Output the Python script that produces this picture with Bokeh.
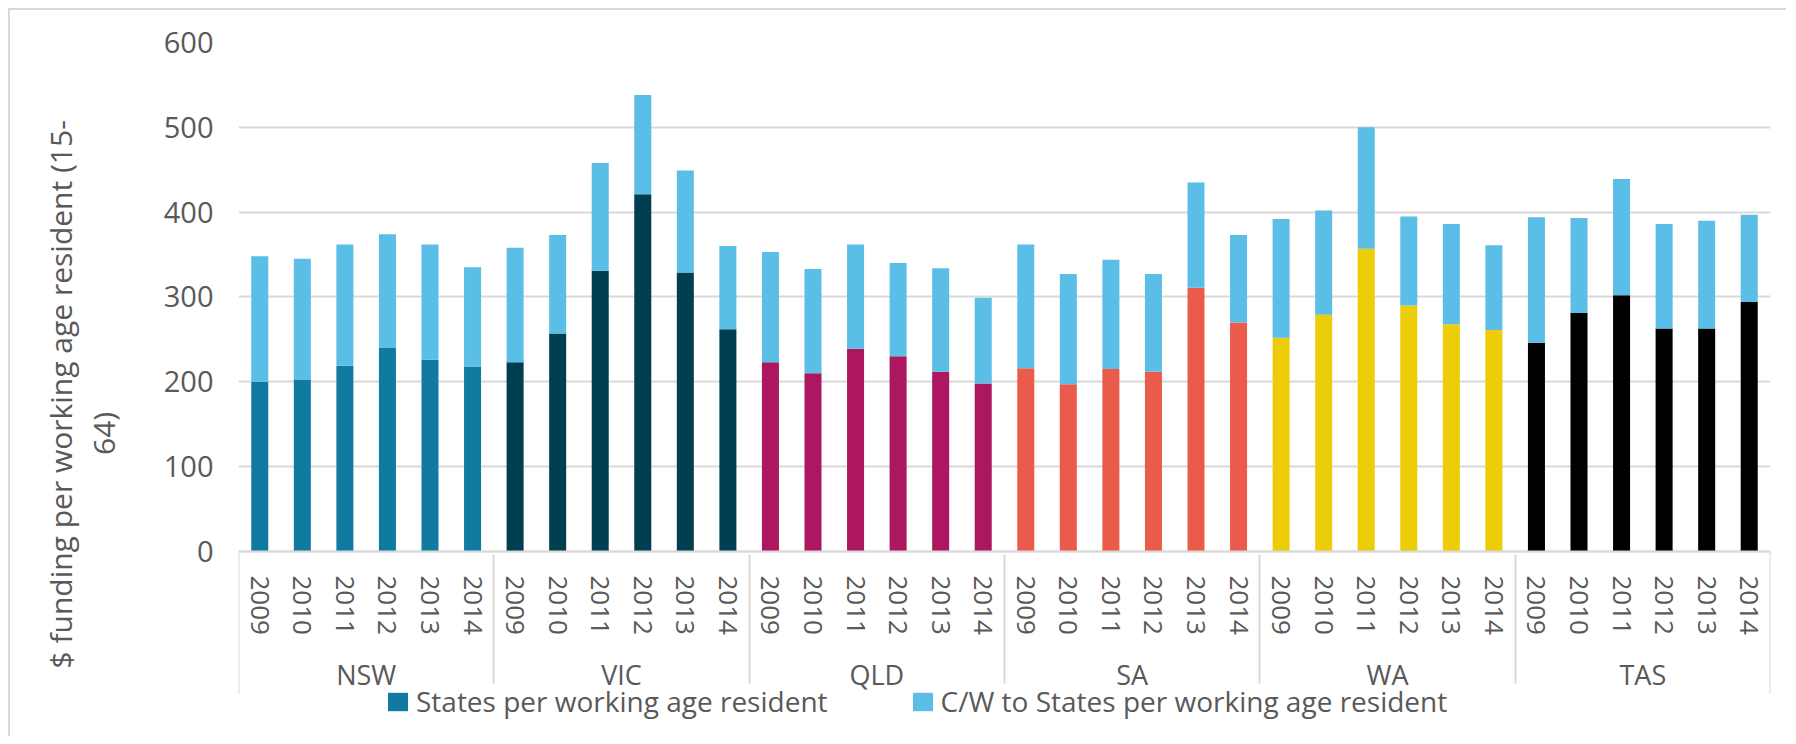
from bokeh.plotting import figure
from bokeh.models import FactorRange, Legend, LegendItem, ColumnDataSource
from bokeh.embed import file_html
from bokeh.resources import INLINE

# ---------------- data ----------------
states = ["NSW", "VIC", "QLD", "SA", "WA", "TAS"]
years = ["2009", "2010", "2011", "2012", "2013", "2014"]

# States per working age resident
nsw_state = [200, 202, 219, 240, 226, 218]
vic_state = [223, 257, 331, 421, 329, 262]
qld_state = [223, 210, 239, 230, 212, 198]
sa_state = [216, 197, 215, 212, 311, 270]
wa_state = [252, 279, 357, 290, 268, 261]
tas_state = [246, 281, 302, 263, 263, 294]

# C/W to States per working age resident
nsw_cw = [148, 143, 143, 134, 136, 117]
vic_cw = [135, 116, 127, 117, 120, 98]
qld_cw = [130, 123, 123, 110, 122, 101]
sa_cw = [146, 130, 129, 115, 124, 103]
wa_cw = [140, 123, 143, 105, 118, 100]
tas_cw = [148, 112, 137, 123, 127, 103]

state_colors = ["#107AA0", "#003F52", "#AC1760", "#EA5B4C", "#EDCD07", "#000000"]
cw_color = "#5BBEE6"

series_names = ["States per working age resident", "C/W to States per working age resident"]
y_ticks = [0, 100, 200, 300, 400, 500, 600]
y_title = "$  funding per working age resident (15-\n64)" + " " * 11

# ---------------- build ----------------
state_lists = [nsw_state, vic_state, qld_state, sa_state, wa_state, tas_state]
cw_lists = [nsw_cw, vic_cw, qld_cw, sa_cw, wa_cw, tas_cw]

factors = [(s, y) for s in states for y in years]
st_vals = [v for lst in state_lists for v in lst]
cw_vals = [v for lst in cw_lists for v in lst]
tops = [a + b for a, b in zip(st_vals, cw_vals)]
cols = [state_colors[i] for i in range(len(states)) for _ in years]

src = ColumnDataSource(dict(x=factors, st=st_vals, top=tops, color=cols))

FONT = "Open Sans"
TXT = "#595959"
GRID = "#D9D9D9"

H = 728
TOP = 32
PX_PER_UNIT = 0.8483
y_min = 600 - (H - TOP) / PX_PER_UNIT   # frame extends below 0 to hold the category labels and legend

p = figure(
    x_range=FactorRange(*factors, factor_padding=0, group_padding=0, subgroup_padding=0, range_padding=0),
    y_range=(y_min, 600),
    width=1778, height=H,
    output_backend="svg", toolbar_location=None,
    min_border_left=228, min_border_right=18, min_border_top=TOP, min_border_bottom=0,
)
p.styles = {"margin-left": "8px", "margin-top": "8px",
            "border-left": "2px solid #D9D9D9", "border-top": "2px solid #D9D9D9"}

r_state = p.vbar(x="x", bottom=0, top="st", width=0.4, fill_color="color", line_color=None, source=src)
r_cw = p.vbar(x="x", bottom="st", top="top", width=0.4, fill_color=cw_color, line_color=None, source=src)

p.outline_line_color = None
p.xgrid.grid_line_color = None
p.ygrid.grid_line_color = GRID
p.ygrid.grid_line_width = 2

ya = p.yaxis[0]
ya.ticker = y_ticks
ya.axis_line_color = None
ya.major_tick_line_color = None
ya.minor_tick_line_color = None
ya.major_label_standoff = 19
ya.major_label_text_font = FONT
ya.major_label_text_font_size = "29px"
ya.major_label_text_color = TXT
ya.axis_label = y_title
ya.axis_label_text_font = FONT
ya.axis_label_text_font_size = "30px"
ya.axis_label_text_font_style = "normal"
ya.axis_label_text_color = TXT
ya.axis_label_standoff = 37
ya.axis_label_text_line_height = 1.05

xa = p.xaxis[0]
xa.fixed_location = 0
xa.axis_line_color = GRID
xa.axis_line_width = 2
xa.major_tick_line_color = None
xa.minor_tick_line_color = None
xa.major_label_orientation = "vertical"
xa.major_label_standoff = 18
xa.major_label_text_font = FONT
xa.major_label_text_font_size = "26px"
xa.major_label_text_color = TXT
xa.group_text_font = FONT
xa.group_text_font_size = "27px"
xa.group_text_font_style = "normal"
xa.group_text_color = TXT
xa.separator_line_color = GRID
xa.separator_line_width = 2

# outer separators at both ends of the category axis
sep_bottom = -168
p.segment(x0=[0, len(factors)], x1=[0, len(factors)], y0=[0, 0], y1=[sep_bottom, sep_bottom],
          line_color=GRID, line_width=2)

# legend (inside the extended frame, below the axis labels)
lg = Legend(
    items=[LegendItem(label=series_names[0], renderers=[r_state], index=0),
           LegendItem(label=series_names[1], renderers=[r_cw], index=0)],
    location=(147, 18), orientation="horizontal",
    glyph_width=25, glyph_height=23, label_standoff=6, spacing=82,
    padding=0, margin=0, border_line_color=None, background_fill_alpha=0,
    label_text_font=FONT, label_text_font_size="28px", label_text_color=TXT,
)
p.add_layout(lg, "center")

open("out.html", "w").write(file_html(p, INLINE))
